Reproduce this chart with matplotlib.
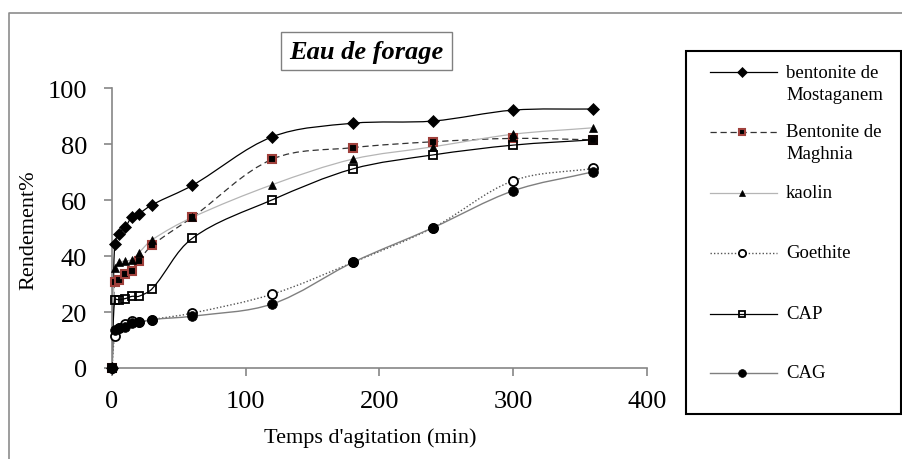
import numpy as np
import matplotlib
matplotlib.use("Agg")
import matplotlib.pyplot as plt
from matplotlib.path import Path
from matplotlib.patches import PathPatch, Rectangle
from matplotlib.lines import Line2D

plt.rcParams['font.family'] = ['Liberation Serif', 'DejaVu Serif']

# Données
temps = [0, 2, 5, 10, 15, 20, 30, 60, 120, 180, 240, 300, 360]
bent_mostaganem = [0, 44.2, 48.0, 50.4, 54.0, 55.1, 58.3, 65.2, 82.6, 87.4, 88.2, 92.1, 92.5]
bent_maghnia = [0, 30.8, 31.3, 33.7, 34.6, 38.3, 43.8, 53.8, 74.6, 78.7, 80.8, 82.0, 81.5]
kaolin = [0, 35.7, 37.7, 38.2, 38.7, 41.1, 45.8, 53.8, 65.5, 74.6, 79.0, 83.5, 85.8]
goethite = [0, 11.3, 14.3, 15.8, 16.7, 16.4, 17.3, 19.6, 26.4, 37.7, 50.1, 66.9, 71.3]
cap = [0, 24.4, 24.4, 24.8, 25.6, 25.6, 28.3, 46.3, 60.1, 71.1, 76.1, 79.6, 81.5]
cag = [0, 13.7, 14.3, 14.6, 16.1, 16.3, 17.3, 18.5, 22.9, 37.7, 50.1, 63.3, 70.1]

noms = ["bentonite de\nMostaganem", "Bentonite de\nMaghnia", "kaolin",
        "Goethite", "CAP", "CAG"]
series = [bent_mostaganem, bent_maghnia, kaolin, goethite, cap, cag]

# style de chaque courbe
styles = [
    dict(color='black', ls='-', lw=0.9, marker='D', ms=6.5, mfc='black', mec='black', mew=0.5),
    dict(color='#333333', ls=(0, (5, 3)), lw=0.9, marker='s', ms=5.5, mfc='black', mec='#a0413c', mew=1.5),
    dict(color='#b5b5b5', ls='-', lw=0.9, marker='^', ms=6, mfc='black', mec='black', mew=0.5),
    dict(color='#555555', ls=(0, (1, 1.5)), lw=1.0, marker='o', ms=6.5, mfc='white', mec='black', mew=1.3),
    dict(color='black', ls='-', lw=0.9, marker='s', ms=6, mfc='none', mec='black', mew=1.3),
    dict(color='#7f7f7f', ls='-', lw=1.0, marker='o', ms=7, mfc='black', mec='black', mew=0.5),
]

W, H = 903, 460
fig = plt.figure(figsize=(W / 100, H / 100), dpi=100)


def px(x, y):
    # pixels -> fraction de la figure
    return x / W, 1 - y / H


ax = fig.add_axes([112 / W, (H - 369) / H, 535 / W, 280 / H])
ax.set_xlim(0, 400)
ax.set_ylim(0, 100)
ax.set_xticks([0, 100, 200, 300, 400])
ax.set_yticks([0, 20, 40, 60, 80, 100])
for s in ['top', 'right']:
    ax.spines[s].set_visible(False)
for s in ['left', 'bottom']:
    ax.spines[s].set_color('#868686')
    ax.spines[s].set_linewidth(1.2)
ax.tick_params(direction='out', length=6, width=1.2, color='#868686',
               labelsize=19, labelcolor='black')
ax.tick_params(axis='y', pad=12)
ax.tick_params(axis='x', pad=10)


# courbe lissée (style Excel) : Bezier à partir des points
def smooth_path(ax, xs, ys):
    pts = ax.transData.transform(np.column_stack([xs, ys]))
    n = len(pts)
    verts = [pts[0]]
    codes = [Path.MOVETO]
    for i in range(n - 1):
        p0 = pts[i - 1] if i > 0 else pts[i]
        p1 = pts[i]
        p2 = pts[i + 1]
        p3 = pts[i + 2] if i + 2 < n else pts[i + 1]
        d = np.linalg.norm(p2 - p1)
        t1 = p2 - p0
        t2 = p3 - p1
        t1 = t1 / (np.linalg.norm(t1) or 1)
        t2 = t2 / (np.linalg.norm(t2) or 1)
        c1 = p1 + t1 * d / 3
        c2 = p2 - t2 * d / 3
        verts += [c1, c2, p2]
        codes += [Path.CURVE4] * 3
    verts = ax.transData.inverted().transform(np.array(verts))
    return Path(verts, codes)


for vals, st in zip(series, styles):
    patch = PathPatch(smooth_path(ax, temps, vals), fill=False,
                      edgecolor=st['color'], lw=st['lw'], ls=st['ls'], zorder=2)
    ax.add_patch(patch)
for vals, st in zip(series, styles):
    ax.plot(temps, vals, ls='none', marker=st['marker'], ms=st['ms'],
            mfc=st['mfc'], mec=st['mec'], mew=st['mew'], zorder=3, clip_on=False)

fig.text(*px(29, 230), "Rendement%", rotation=90, ha='center', va='center', fontsize=16)
fig.text(*px(370, 438), "Temps d'agitation (min)", ha='center', va='center', fontsize=16)

# calque en pixels pour cadre, titre et légende
ov = fig.add_axes([0, 0, 1, 1])
ov.set_xlim(0, W)
ov.set_ylim(H, 0)
ov.axis('off')
ov.patch.set_visible(False)

ov.plot([9, 9, W], [H, 14, 14], color='#8c8c8c', lw=1.2)

ov.add_patch(Rectangle((281, 33), 171, 38, fill=False, edgecolor='#808080', lw=1))
ov.text(366, 53, "Eau de forage", ha='center', va='center', fontsize=19,
        fontweight='bold', fontstyle='italic')

ov.add_patch(Rectangle((686, 52), 215, 363, fill=False, edgecolor='black', lw=1.5))
leg_y = [73, 133, 194, 254, 315, 374]
for nom, st, y in zip(noms, styles, leg_y):
    ov.add_line(Line2D([710, 777], [y, y], color=st['color'], lw=st['lw'], ls=st['ls']))
    ov.plot([742], [y], marker=st['marker'], ms=st['ms'] * 0.8, mfc=st['mfc'],
            mec=st['mec'], mew=st['mew'], ls='none')
    for k, ligne in enumerate(nom.split("\n")):
        ov.text(786, y + 22 * k, ligne, ha='left', va='center', fontsize=13.5)

fig.savefig("out.png", dpi=100)
